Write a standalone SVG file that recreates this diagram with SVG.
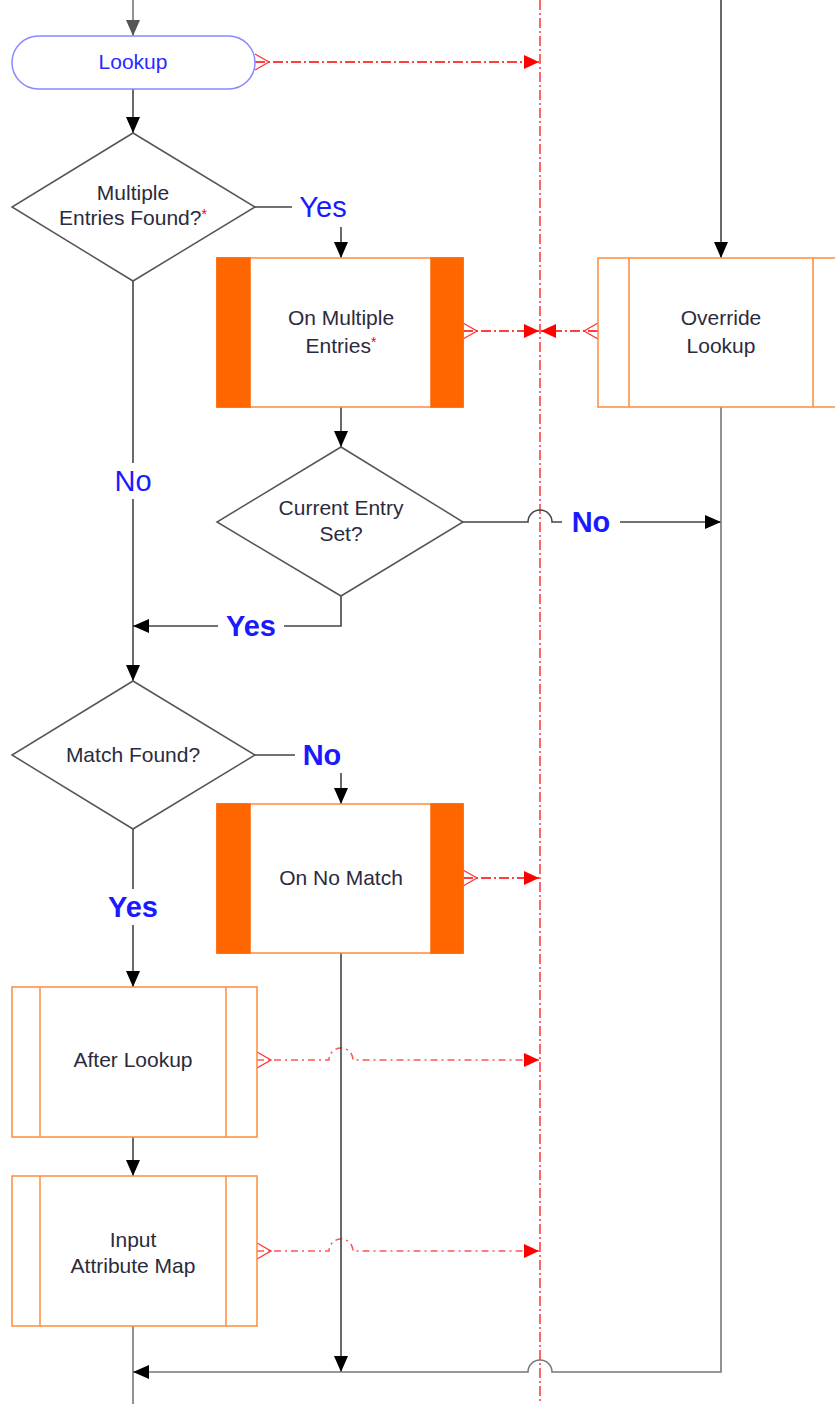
<svg xmlns="http://www.w3.org/2000/svg" width="835" height="1404" viewBox="0 0 835 1404">
<style>
.ntext{font-family:"Liberation Sans",Arial,sans-serif;font-size:21px;fill:#2b2b3d;text-anchor:middle}
.lbl{font-family:"Liberation Sans",Arial,sans-serif;font-size:29px;fill:#1a1aff;text-anchor:middle}
.b{font-weight:bold}
.ast{fill:#ff0000;font-size:14px}
.dia{fill:#fff;stroke:#555;stroke-width:1.5}
.box{fill:#fff;stroke:#ff8a3d;stroke-width:1.5}
.bar{fill:#ff6600;stroke:#ff6600;stroke-width:1.5}
.inner{stroke:#ff8a3d;stroke-width:1.5;fill:none}
.con{fill:none;stroke:#444;stroke-width:1.6}
.gray{stroke:#777}
.red{fill:none;stroke:#ff0000;stroke-width:1.5;stroke-dasharray:10,3,2,3}
.redl{fill:none;stroke:#ff5555;stroke-width:1.5;stroke-dasharray:7,4,2,4}
.fork{fill:none;stroke:#ff3333;stroke-width:1.3}
.lbg{fill:#fff}
</style>
<defs>
<marker id="ah" markerUnits="userSpaceOnUse" markerWidth="16" markerHeight="14" refX="16" refY="7" orient="auto">
<path d="M0,0 L16,7 L0,14 z" fill="#000"/>
</marker>
<marker id="ahg" markerUnits="userSpaceOnUse" markerWidth="16" markerHeight="14" refX="16" refY="7" orient="auto">
<path d="M0,0 L16,7 L0,14 z" fill="#555"/>
</marker>
<marker id="ar" markerUnits="userSpaceOnUse" markerWidth="15" markerHeight="14" refX="15" refY="7" orient="auto">
<path d="M0,0 L15,7 L0,14 z" fill="#ff0000"/>
</marker>
</defs>

<g id="connectors">
<!-- red swimlane line -->
<path class="red" d="M540,0 V1404" style="stroke-width:1.2"/>
<!-- red event links -->
<path class="red" d="M255,62 H539" marker-end="url(#ar)"/>
<polyline class="fork" points="255,54 269,62 255,70"/>
<path class="red" d="M463,331 H539" marker-end="url(#ar)"/>
<polyline class="fork" points="463,323 477,331 463,339"/>
<path class="red" d="M598,331 H541" marker-end="url(#ar)"/>
<polyline class="fork" points="598,323 584,331 598,339"/>
<path class="red" d="M463,878 H539" marker-end="url(#ar)"/>
<polyline class="fork" points="463,870 477,878 463,886"/>
<path class="redl" d="M257,1060 H329 A12,12 0 0 1 353,1060 H539" marker-end="url(#ar)"/>
<polyline class="fork" points="257,1052 271,1060 257,1068"/>
<path class="redl" d="M257,1251 H329 A12,12 0 0 1 353,1251 H539" marker-end="url(#ar)"/>
<polyline class="fork" points="257,1243 271,1251 257,1259"/>

<!-- flow -->
<path class="con gray" d="M133,0 V36" marker-end="url(#ahg)"/>
<path class="con" d="M133,89 V133" marker-end="url(#ah)"/>
<path class="con" d="M255,207 H341 V258" marker-end="url(#ah)"/>
<path class="con" d="M133,281 V681" marker-end="url(#ah)"/>
<path class="con" d="M341,407 V447" marker-end="url(#ah)"/>
<path class="con" d="M463,522 H528 A12,12 0 0 1 552,522 H721" marker-end="url(#ah)"/>
<path class="con" d="M341,596 V626 H133" marker-end="url(#ah)"/>
<path class="con" d="M255,755 H341 V804" marker-end="url(#ah)"/>
<path class="con" d="M133,829 V987" marker-end="url(#ah)"/>
<path class="con" d="M341,953 V1372" marker-end="url(#ah)"/>
<path class="con" d="M133,1137 V1176" marker-end="url(#ah)"/>
<path class="con gray" d="M133,1326 V1404"/>
<path class="con" d="M721,0 V258" marker-end="url(#ah)"/>
<path class="con gray" d="M721,407 V1372 H552 A12,12 0 0 0 528,1372 H133" marker-end="url(#ah)"/>

<!-- labels -->
<rect class="lbg" x="292" y="189" width="62" height="38"/>
<text class="lbl" x="323" y="217">Yes</text>
<rect class="lbg" x="110" y="463" width="46" height="36"/>
<text class="lbl" x="133" y="491">No</text>
<rect class="lbg" x="562" y="505" width="58" height="34"/>
<text class="lbl b" x="591" y="532">No</text>
<rect class="lbg" x="218" y="609" width="66" height="34"/>
<text class="lbl b" x="251" y="636">Yes</text>
<rect class="lbg" x="295" y="737" width="54" height="36"/>
<text class="lbl b" x="322" y="765">No</text>
<rect class="lbg" x="101" y="889" width="64" height="36"/>
<text class="lbl b" x="133" y="917">Yes</text>
</g>

<g id="lookup">
<rect x="12" y="36" width="243" height="53" rx="26.5" ry="26.5" fill="#fff" stroke="#8888ff" stroke-width="1.5"/>
<text class="ntext" x="133" y="69" style="fill:#2a2aff">Lookup</text>
</g>

<g id="multiple-entries-found">
<polygon class="dia" points="133,133 255,207 133,281 12,207"/>
<text class="ntext" x="133" y="200">Multiple</text>
<text class="ntext" x="133" y="225">Entries Found?<tspan class="ast" dy="-6">*</tspan></text>
</g>

<g id="on-multiple-entries">
<rect class="box" x="217" y="258" width="246" height="149"/>
<rect class="bar" x="217" y="258" width="33" height="149"/>
<rect class="bar" x="431" y="258" width="32" height="149"/>
<text class="ntext" x="341" y="325">On Multiple</text>
<text class="ntext" x="341" y="353">Entries<tspan class="ast" dy="-6">*</tspan></text>
</g>

<g id="override-lookup">
<rect class="box" x="598" y="258" width="246" height="149"/>
<line class="inner" x1="629" y1="258" x2="629" y2="407"/>
<line class="inner" x1="813" y1="258" x2="813" y2="407"/>
<text class="ntext" x="721" y="325">Override</text>
<text class="ntext" x="721" y="353">Lookup</text>
</g>

<g id="current-entry-set">
<polygon class="dia" points="341,447 463,522 341,596 217,522"/>
<text class="ntext" x="341" y="515">Current Entry</text>
<text class="ntext" x="341" y="541">Set?</text>
</g>

<g id="match-found">
<polygon class="dia" points="133,681 255,755 133,829 12,755"/>
<text class="ntext" x="133" y="762">Match Found?</text>
</g>

<g id="on-no-match">
<rect class="box" x="217" y="804" width="246" height="149"/>
<rect class="bar" x="217" y="804" width="33" height="149"/>
<rect class="bar" x="431" y="804" width="32" height="149"/>
<text class="ntext" x="341" y="885">On No Match</text>
</g>

<g id="after-lookup">
<rect class="box" x="12" y="987" width="245" height="150"/>
<line class="inner" x1="40" y1="987" x2="40" y2="1137"/>
<line class="inner" x1="226" y1="987" x2="226" y2="1137"/>
<text class="ntext" x="133" y="1067">After Lookup</text>
</g>

<g id="input-attribute-map">
<rect class="box" x="12" y="1176" width="245" height="150"/>
<line class="inner" x1="40" y1="1176" x2="40" y2="1326"/>
<line class="inner" x1="226" y1="1176" x2="226" y2="1326"/>
<text class="ntext" x="133" y="1247">Input</text>
<text class="ntext" x="133" y="1273">Attribute Map</text>
</g>
</svg>
